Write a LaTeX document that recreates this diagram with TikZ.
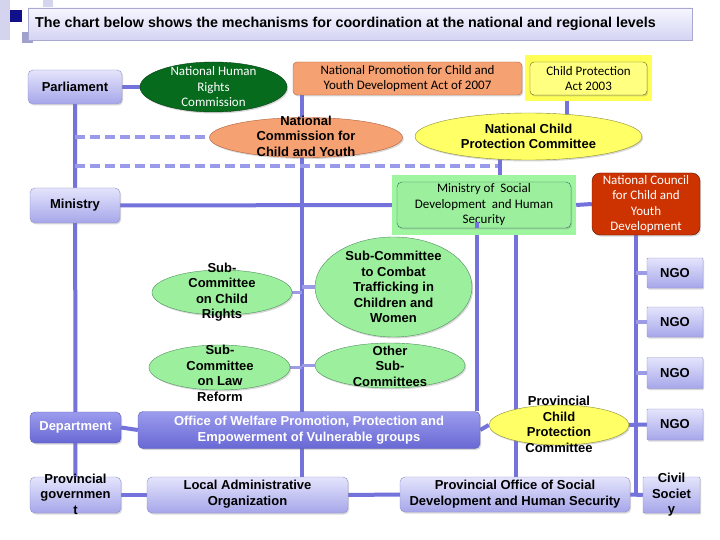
\documentclass[tikz,border=0pt]{standalone}
\usepackage{fontspec}
\setmainfont{Liberation Sans}
\newfontfamily\calib{Carlito}
\usetikzlibrary{shapes.geometric,calc,shadows,backgrounds}
\definecolor{lineblue}{HTML}{7373DB}
\definecolor{lightline}{HTML}{9C9CE6}
\definecolor{dashblue}{HTML}{9A9AEA}
\definecolor{lavtop}{HTML}{E4E4FC}
\definecolor{lavbot}{HTML}{A6A6EA}
\definecolor{lavborder}{HTML}{8E8ECC}
\definecolor{deptop}{HTML}{9C9CEE}
\definecolor{depbot}{HTML}{6868D4}
\definecolor{depborder}{HTML}{5A5AB8}
\definecolor{greenfill}{HTML}{9CEF9C}
\definecolor{greenborder}{HTML}{4F8F5F}
\definecolor{yellowfill}{HTML}{FFFF66}
\definecolor{yellowborder}{HTML}{8A8A30}
\definecolor{orangefill}{HTML}{F6A172}
\definecolor{orangeborder}{HTML}{B0603A}
\definecolor{darkgreen}{HTML}{076B1E}
\definecolor{darkgreenborder}{HTML}{033D10}
\definecolor{redfill}{HTML}{CC3300}
\definecolor{redborder}{HTML}{5A1500}
\definecolor{msdhigh}{HTML}{A0F5A0}
\definecolor{msdborder}{HTML}{2E6E66}
\definecolor{cpahigh}{HTML}{FFFF55}
\definecolor{cpafill}{HTML}{FFFF80}
\definecolor{titletop}{HTML}{F6F6FF}
\definecolor{titlebot}{HTML}{D4D4F4}
\definecolor{titleborder}{HTML}{A8A8D0}
\definecolor{decolight}{HTML}{D4D4EE}
\definecolor{decomid}{HTML}{A0A0CC}
\definecolor{decoNavy}{HTML}{10108A}
\tikzset{
  conn/.style={draw=lineblue, line width=4pt},
  subconn/.style={draw=lightline, line width=3.5pt},
  dashconn/.style={draw=dashblue, line width=4pt, dash pattern=on 10pt off 5pt},
  shad/.style={drop shadow={opacity=0.3, shadow xshift=1.2pt, shadow yshift=-1.5pt}},
  lavbox/.style={rectangle, rounded corners=5pt, draw=lavborder, top color=lavtop, bottom color=lavbot, inner sep=0pt, shad},
  depbox/.style={rectangle, rounded corners=5pt, draw=depborder, top color=deptop, bottom color=depbot, inner sep=0pt, shad},
  greenell/.style={ellipse, draw=greenborder, fill=greenfill, inner sep=0pt, shad},
  yellowell/.style={ellipse, draw=yellowborder, fill=yellowfill, inner sep=0pt, shad},
  orangeell/.style={ellipse, draw=orangeborder, fill=orangefill, inner sep=0pt, shad},
  lbl/.style={align=center, inner sep=0pt, font=\bfseries\fontsize{13}{15.5}\selectfont, text=black},
  wlbl/.style={lbl, text=white},
  clbl/.style={align=center, inner sep=0pt, font=\calib\fontsize{13}{15.5}\selectfont, text=black},
  wclbl/.style={clbl, text=white},
}
\begin{document}
\begin{tikzpicture}[x=1pt,y=-1pt]
\useasboundingbox (0,0) rectangle (720,540);
% decorations
\fill[decolight] (0,0) rectangle (10,40);
\fill[decolight] (43,0) rectangle (53,8);
\fill[decoNavy] (10,10) rectangle (22,22);
\fill[decomid] (22,32) rectangle (33,43);
% title
\node[rectangle, draw=titleborder, top color=titletop, bottom color=titlebot, minimum width=664pt, minimum height=32pt, inner sep=0pt, shad] (title) at (360,24) {};
\node[anchor=west, inner sep=0pt, font=\bfseries\fontsize{14.3}{16}\selectfont] (titletext) at (35,24) {The chart below shows the mechanisms for coordination at the national and regional levels};

% top row
\node[lavbox, minimum width=94pt, minimum height=34pt] (PAR) at (75,87) {};
\node[lbl] (PARt) at (PAR) {Parliament};
\node[ellipse, draw=darkgreenborder, fill=darkgreen, inner sep=0pt, shad, minimum width=147pt, minimum height=50pt] (NHRC) at (213.5,87) {};
\node[wclbl] (NHRCt) at (NHRC) {National Human\\Rights\\Commission};
\node[rectangle, rounded corners=4pt, draw=orangeborder, fill=orangefill, inner sep=0pt, shad, minimum width=229pt, minimum height=33pt] (NP) at (407.5,78.5) {};
\node[clbl] (NPt) at (NP) {National Promotion for Child and\\Youth Development Act of 2007};
\node[rectangle, fill=cpahigh, minimum width=127pt, minimum height=46pt, inner sep=0pt] (CPAbg) at (588.5,78) {};
\node[rectangle, rounded corners=4pt, draw=yellowborder!70!black, fill=cpafill, inner sep=0pt, shad, minimum width=117pt, minimum height=33pt] (CPA) at (588.5,78.5) {};
\node[clbl] (CPAt) at (CPA) {Child Protection\\Act 2003};

% national commissions
\node[orangeell, minimum width=193pt, minimum height=40pt] (NCCY) at (306,137.5) {};
\node[lbl] (NCCYt) at (306,136) {National\\Commission for\\Child and Youth};
\node[yellowell, minimum width=227pt, minimum height=47pt] (NCPC) at (528.5,136.5) {};
\node[lbl] (NCPCt) at (NCPC) {National Child\\Protection Committee};

% ministry row
\node[lavbox, minimum width=90pt, minimum height=35pt] (MIN) at (75,205.5) {};
\node[lbl] (MINt) at (MIN) {Ministry};
\node[rectangle, fill=msdhigh, minimum width=184pt, minimum height=60pt, inner sep=0pt] (MSDbg) at (484,205) {};
\node[rectangle, rounded corners=5pt, draw=msdborder, fill=greenfill, inner sep=0pt, shad, minimum width=174pt, minimum height=46pt] (MSD) at (484,205) {};
\node[clbl] (MSDt) at (484,205) {Ministry of~ Social\\Development~ and Human\\Security};
\node[rectangle, rounded corners=8pt, draw=redborder, fill=redfill, inner sep=0pt, shad, minimum width=108pt, minimum height=62pt] (NCCYD) at (646,204) {};
\node[wclbl] (NCCYDt) at (NCCYD) {National Council\\for Child and\\Youth\\Development};

% sub-committees
\node[greenell, minimum width=140pt, minimum height=45pt] (SCR) at (222,292.5) {};
\node[lbl] (SCRt) at (222,292) {Sub-\\Committee\\on Child\\Rights};
\node[greenell, minimum width=157pt, minimum height=100pt] (SCT) at (393.5,287) {};
\node[lbl] (SCTt) at (SCT) {Sub-Committee\\to Combat\\Trafficking in\\Children and\\Women};
\node[greenell, minimum width=141pt, minimum height=45pt] (SCL) at (219.5,367.5) {};
\node[lbl] (SCLt) at (220,373.5) {Sub-\\Committee\\on Law\\Reform};
\node[greenell, minimum width=150pt, minimum height=45pt] (OSC) at (390,365.5) {};
\node[lbl] (OSCt) at (390,366) {Other\\Sub-\\Committees};

% department row
\node[depbox, minimum width=91pt, minimum height=31pt] (DEP) at (75.5,427.5) {};
\node[wlbl] (DEPt) at (DEP) {Department};
\node[depbox, minimum width=342pt, minimum height=37pt] (OW) at (309,430) {};
\node[wlbl] (OWt) at (OW) {Office of Welfare Promotion, Protection and\\Empowerment of Vulnerable groups};
\node[yellowell, minimum width=140pt, minimum height=40pt] (PCPC) at (559,425) {};
\node[lbl] (PCPCt) at (559,424.5) {Provincial\\Child\\Protection\\Committee};

% NGOs
\node[lavbox, rounded corners=1pt, minimum width=56pt, minimum height=30pt] (NGO1) at (675,273) {};
\node[lbl] (NGO1t) at (NGO1) {NGO};
\node[lavbox, rounded corners=1pt, minimum width=56pt, minimum height=30pt] (NGO2) at (675,322) {};
\node[lbl] (NGO2t) at (NGO2) {NGO};
\node[lavbox, rounded corners=1pt, minimum width=56pt, minimum height=31pt] (NGO3) at (675,373) {};
\node[lbl] (NGO3t) at (NGO3) {NGO};
\node[lavbox, rounded corners=1pt, minimum width=56pt, minimum height=31pt] (NGO4) at (675,424.5) {};
\node[lbl] (NGO4t) at (NGO4) {NGO};
\node[lavbox, rounded corners=1pt, minimum width=57pt, minimum height=36pt] (CS) at (671.5,495) {};
\node[lbl] (CSt) at (CS) {Civil\\Societ\\y};

% provincial row
\node[lavbox, minimum width=91pt, minimum height=36pt] (PG) at (75.5,495) {};
\node[lbl] (PGt) at (75.5,494) {Provincial\\governmen\\t};
\node[lavbox, minimum width=201pt, minimum height=36pt] (LAO) at (247.5,495) {};
\node[lbl] (LAOt) at (247.5,494) {Local Administrative\\Organization};
\node[lavbox, minimum width=230pt, minimum height=35pt] (PO) at (515,494.5) {};
\node[lbl] (POt) at (515,494) {Provincial Office of Social\\Development and Human Security};

% helper coordinates for vertical lines
\coordinate (v302) at (302,0);
\coordinate (v477) at (477,0);
\coordinate (v500) at (500,0);
\coordinate (v516) at (516,0);
\coordinate (v567) at (567,0);
\coordinate (v636) at (636,0);

% short segment of the 477 line drawn over the MSD box, as in the reference
\draw[conn] ($(v477 |- MSD.south)+(0,-6)$) -- (v477 |- MSD.south);

\begin{pgfonlayer}{background}
\fill[white] (0,0) rectangle (720,540);
\draw[conn] (PAR.south) -- (PG.north);
\draw[conn] (PAR.east) -- (NHRC.west);
\draw[conn] (MIN.east) -- (MSDbg.west);
\draw[conn] (MSDbg.east) -- (NCCYD.west);
\draw[conn] (NP.south -| v302) -- (LAO.north -| v302);
\draw[dashconn] (PAR.south |- NCCY.west) -- (NCCY.west);
\draw[dashconn] (PAR.south |- 0,166) -- (v500 |- 0,166);
\draw[conn] (v500 |- NCPC.center) -- (v500 |- MSDbg.north);
\draw[conn] (v567 |- CPAbg.south) -- (v567 |- NCPC.center);
\draw[subconn] (SCR.east) -- (SCR.east -| v302);
\draw[subconn] (SCT.west) -- (SCT.west -| v302);
\draw[subconn] (SCL.east) -- (SCL.east -| v302);
\draw[subconn] (OSC.west) -- (OSC.west -| v302);
\draw[conn] (v477 |- MSDbg.south) -- (v477 |- OW.north);
\draw[conn] (v516 |- MSDbg.south) -- (v516 |- PO.north);
\draw[conn] (DEP.east) -- (OW.west);
\draw[conn] (OW.east) -- (PCPC.west);
\draw[conn] (NCCYD.south -| v636) -- (CS.west -| v636);
\draw[subconn] (NGO1.west -| v636) -- (NGO1.west);
\draw[subconn] (NGO2.west -| v636) -- (NGO2.west);
\draw[subconn] (NGO3.west -| v636) -- (NGO3.west);
\draw[conn] (PCPC.east) -- (NGO4.west);
\draw[conn] (PG.east) -- (LAO.west);
\draw[conn] (LAO.east) -- (PO.west);
\draw[conn] (PO.east) -- (CS.west);
\end{pgfonlayer}
\end{tikzpicture}
\end{document}
